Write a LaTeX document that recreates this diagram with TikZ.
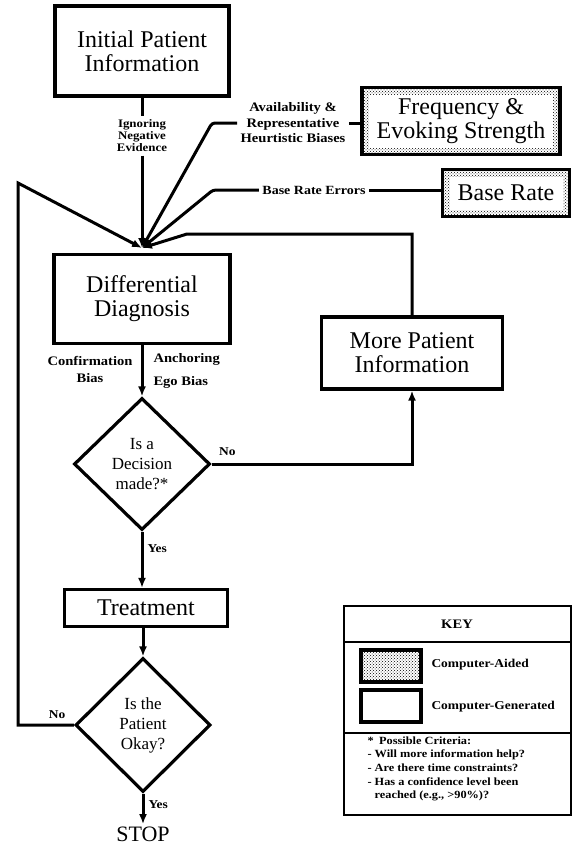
\documentclass[tikz,border=0pt]{standalone}
\usepackage{fontspec}
\setmainfont{Liberation Serif}
\newfontfamily\lblfont{Liberation Serif}[FakeStretch=1.12]
\usepackage{tikz}
\usetikzlibrary{arrows.meta, shapes.geometric, calc, patterns, positioning}

\begin{document}
\begin{tikzpicture}[x=1pt, y=-1pt, line width=3pt, >={Latex[length=10pt,width=8pt]},
    box/.style={draw, line width=3.2pt, align=center, inner sep=0pt, font=\fontsize{24}{24}\selectfont},
    aided/.style={box, line width=3.6pt, pattern=crosshatch dots, pattern color=black,
        path picture={\fill[white] ($(path picture bounding box.south west)+(7pt,7pt)$)
            rectangle ($(path picture bounding box.north east)-(7pt,7pt)$);}},
    dia/.style={draw, diamond, line width=3.2pt, align=center, inner sep=0pt,
        font=\fontsize{17}{20}\selectfont, minimum width=136pt, minimum height=132pt},
    lbl/.style={align=center, inner sep=2pt, font=\lblfont\bfseries\fontsize{12}{14}\selectfont}]
    \useasboundingbox (0,0) rectangle (578,849);

    % 主流程
    \node[box, minimum width=174pt, minimum height=90pt] (init) at (142,51) {Initial Patient\\Information};
    \node[box, minimum width=176pt, minimum height=89pt] (diff) at (142,299) {Differential\\Diagnosis};
    \node[dia] (decide) at (142,464) {Is a\\Decision\\made?*};
    \node[box, minimum width=163pt, minimum height=37pt] (treat) at (146,608) {Treatment};
    \node[dia, minimum width=135pt, minimum height=134pt] (okay) at (143,725) {Is the\\Patient\\Okay?};
    \node[inner sep=1pt, font=\fontsize{22}{22}\selectfont] (stop) at (143,834) {STOP};
    \node[box, minimum width=181pt, minimum height=72pt] (more) at (412,353) {More Patient\\Information};

    % 计算机辅助
    \node[aided, minimum width=198pt, minimum height=67pt] (freq) at (461,121) {Frequency \&\\Evoking Strength};
    \node[aided, minimum width=127pt, minimum height=47pt] (base) at (506,193) {Base Rate};

    % 偏差标签
    \coordinate (conv) at (142,248);
    \node[lbl, font=\lblfont\bfseries\fontsize{11.5}{12}\selectfont] (ign) at (142,136) {Ignoring\\Negative\\Evidence};
    \node[lbl, font=\lblfont\bfseries\fontsize{13}{15.5}\selectfont] (avail) at (293,123) {Availability \&\\Representative\\Heurtistic Biases};
    \node[lbl, font=\lblfont\bfseries\fontsize{12.5}{14}\selectfont] (errs) at (314,190) {Base Rate Errors};
    \node[lbl, font=\lblfont\bfseries\fontsize{13}{17}\selectfont] (conf) at (90,369) {Confirmation\\Bias};
    \node[lbl, align=left, anchor=west, font=\lblfont\bfseries\fontsize{13}{23}\selectfont] (anch) at (150,371) {Anchoring\\Ego Bias};

    \coordinate (abend) at (212,123);
    \coordinate (ebend) at (213,190);
    \coordinate (mbend) at (187,234);
    \coordinate (lbend) at (18,183);

    % 连线
    \draw (init.south) -- (ign.north);
    \draw[->] (ign.south) -- (conv);
    \draw (avail.east) -- (avail.east -| freq.west);
    \draw[->, rounded corners=3pt] (avail.west) -- (abend) -- (conv);
    \draw (errs.east) -- (errs.east -| base.west);
    \draw[->, rounded corners=3pt] (errs.west) -- (ebend) -- (conv);
    \draw[->] (more.north) |- (mbend) -- (conv);
    \draw[->] (diff.south) -- (decide.north);
    \draw[->] (decide.east) -| node[lbl, pos=0, above right=5pt and 4pt] (no1) {No} (more.south);
    \draw[->] (decide.south) -- node[lbl, pos=0.3, right=2pt] (yes1) {Yes} (decide.south |- treat.north);
    \draw[->] (okay.north |- treat.south) -- (okay.north);
    \draw[->] (okay.west) -| node[lbl, pos=0.15, above=3pt] (no2) {No} (lbend) -- (conv);
    \draw[->] (okay.south) -- node[lbl, pos=0.35, right=2pt] (yes2) {Yes} (stop.north);

    % 图例
    \draw[line width=1.4pt] (344,606) rectangle (571,815);
    \draw[line width=1.4pt] (344,642) -- (571,642);
    \draw[line width=1.4pt] (344,733) -- (571,733);
    \node[lbl, font=\lblfont\bfseries\fontsize{13}{15}\selectfont] (keyttl) at (457,624) {KEY};
    \node[draw, line width=3.2pt, pattern=crosshatch dots, pattern color=black, minimum width=60pt, minimum height=32pt] (keyaided) at (391,666) {};
    \node[draw, line width=3.2pt, minimum width=60pt, minimum height=32pt] (keygen) at (391,706) {};
    \node[lbl, anchor=west] (kaided) at (428,665) {Computer-Aided};
    \node[lbl, anchor=west] (kgen) at (428,707) {Computer-Generated};
    \node[lbl, align=left, anchor=north west, font=\lblfont\bfseries\fontsize{11}{13.7}\selectfont] (crit) at (364,733)
        {*\enspace Possible Criteria:\\
         - Will more information help?\\
         - Are there time constraints?\\
         - Has a confidence level been\\
         \hphantom{- }reached (e.g., >90\%)?};
\end{tikzpicture}
\end{document}
